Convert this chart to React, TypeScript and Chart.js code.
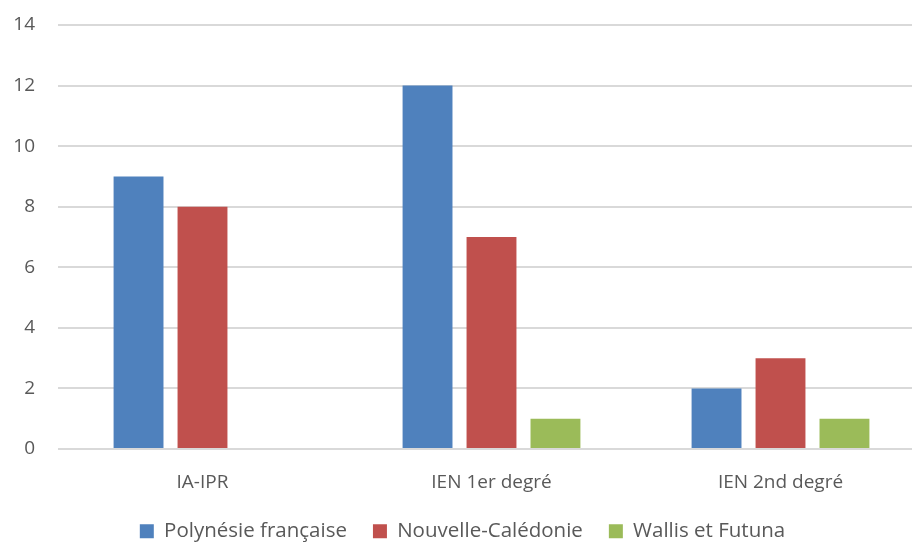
import React, { useEffect, useRef } from "react";
import { Chart, registerables } from "chart.js";

Chart.register(...registerables);

const categories = ["IA-IPR", "IEN 1er degré", "IEN 2nd degré"];
const seriesNames = ["Polynésie française", "Nouvelle-Calédonie", "Wallis et Futuna"];
const polynesie = [9, 12, 2];
const caledonie = [8, 7, 3];
const wallis = [0, 1, 1];
const seriesColors = ["#4F81BD", "#C0504D", "#9BBB59"];
const yMin = 0;
const yMax = 14;
const yStep = 2;

export default function App() {
  const ref = useRef<HTMLCanvasElement | null>(null);

  useEffect(() => {
    document.body.style.margin = "0";
    document.body.style.overflow = "hidden";
    const ctx = ref.current;
    if (!ctx) return;
    const font = "'Open Sans', 'DejaVu Sans', sans-serif";
    const chart = new Chart(ctx, {
      type: "bar",
      data: {
        labels: categories,
        datasets: [polynesie, caledonie, wallis].map((d, i) => ({
          label: seriesNames[i],
          data: d,
          backgroundColor: seriesColors[i],
          borderWidth: 0,
          categoryPercentage: 0.664,
          barPercentage: 0.78,
        })),
      },
      options: {
        animation: false,
        responsive: false,
        maintainAspectRatio: false,
        layout: { padding: { top: 25, left: 0, right: 0, bottom: 0 } },
        plugins: {
          tooltip: { enabled: false },
          legend: {
            position: "bottom",
            maxHeight: 48,
            labels: {
              color: "#595959",
              boxWidth: 14,
              boxHeight: 14,
              padding: 26,
              font: { family: font, size: 20.5 },
            },
          },
        },
        scales: {
          x: {
            grid: { display: false, drawTicks: false },
            border: { display: false },
            ticks: { color: "#595959", padding: 22, font: { family: font, size: 19 } },
            afterFit: (s: any) => { s.height = 46; },
          },
          y: {
            min: yMin,
            max: yMax,
            grid: { color: "#D9D9D9", lineWidth: 2, drawTicks: false },
            border: { display: false },
            ticks: {
              stepSize: yStep,
              color: "#595959",
              padding: 23,
              font: { family: font, size: 19 },
            },
            afterFit: (s: any) => {
              s.width = 58;
              s.paddingTop = 0;
              s.paddingBottom = 0;
            },
          },
        },
      },
    });
    return () => chart.destroy();
  }, []);

  return (
    <div style={{ position: "fixed", left: 0, top: 0, width: 925, height: 543 }}>
      <canvas ref={ref} width={925} height={543} style={{ width: 925, height: 543 }} />
    </div>
  );
}
